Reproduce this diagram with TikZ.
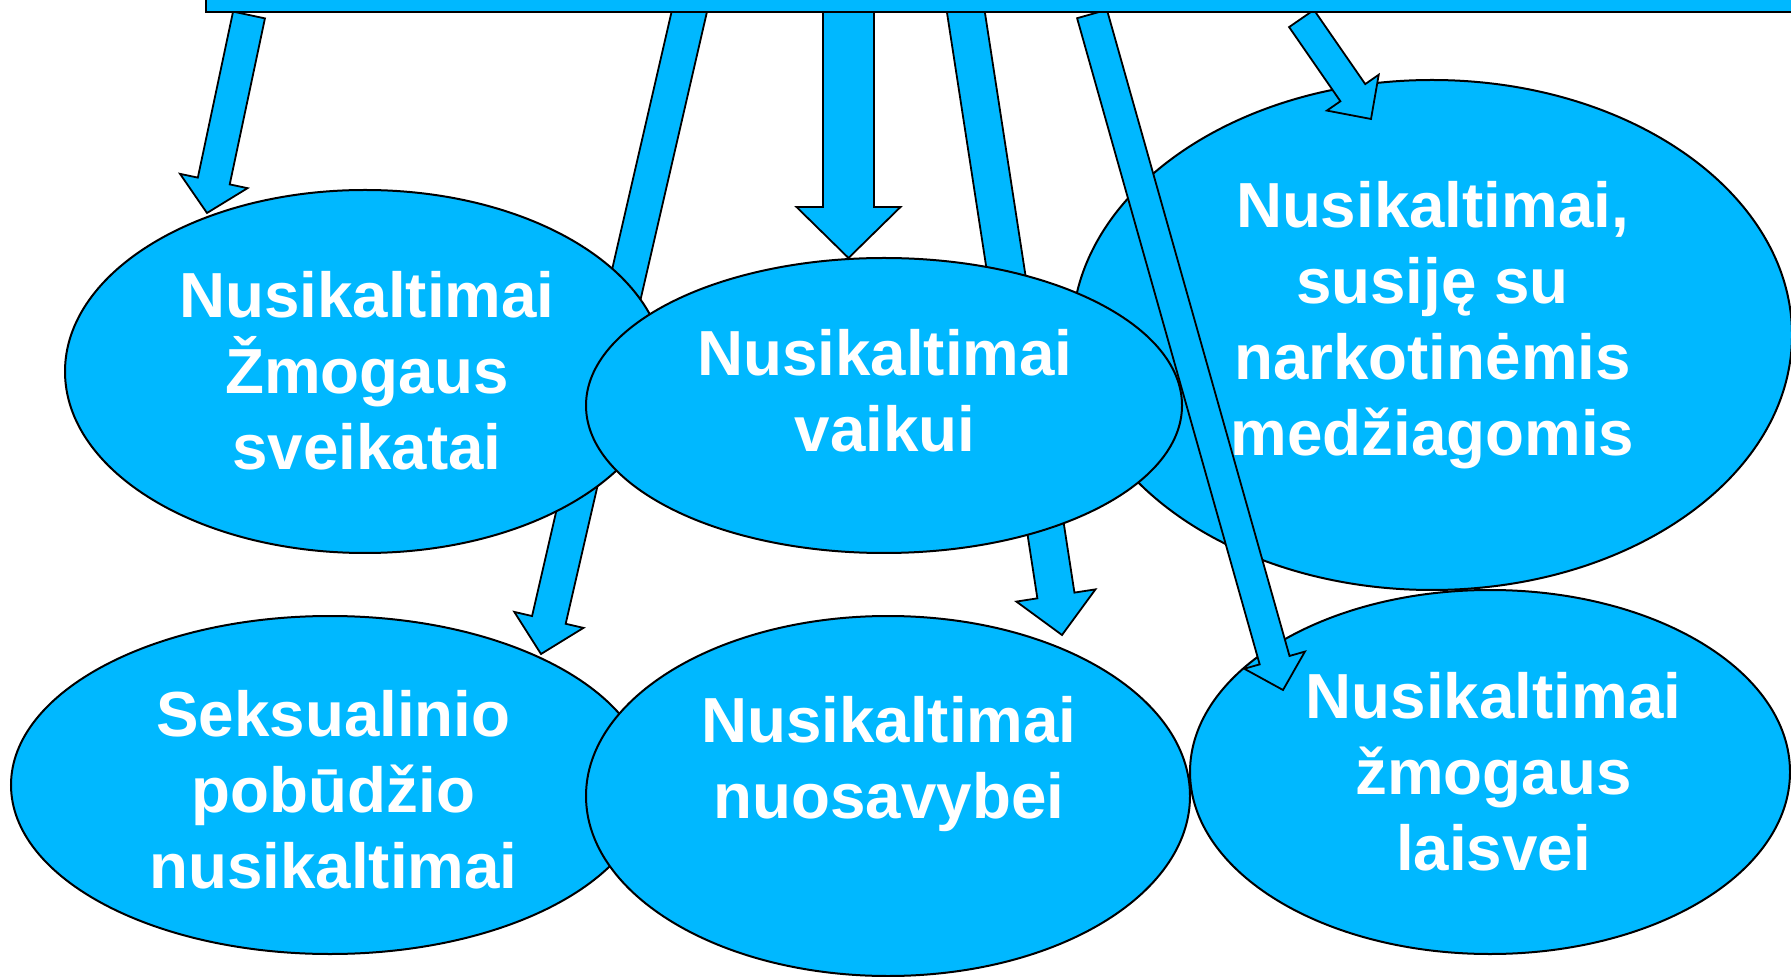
\documentclass[tikz,border=0pt]{standalone}
\usepackage{fontspec}
\setmainfont{Liberation Sans}
\usetikzlibrary{calc,shapes.geometric}
\definecolor{sky}{RGB}{0,184,255}
\tikzset{
  ell/.style={ellipse, draw=black, fill=sky, line width=1pt, inner sep=0pt, outer sep=0pt},
  arr/.style={draw=black, fill=sky, line width=0.9pt, line join=miter},
  lbl/.style={text=white, font=\fontsize{31.85pt}{38pt}\selectfont\bfseries, align=center, inner sep=0pt, anchor=north},
  topbar/.style={draw=black, fill=sky, line width=1pt}
}
% #1 start, #2 tip, #3 shaft width, #4 head width, #5 head length (all in px)
\newcommand\blockarrow[5]{%
  \path ($(#2)!#5*0.5pt!(#1)$) coordinate (hb);
  \draw[arr] ($(#1)!#3*0.25pt!90:(#2)$) -- ($(hb)!#3*0.25pt!90:(#2)$)
     -- ($(hb)!#4*0.25pt!90:(#2)$) -- (#2)
     -- ($(hb)!#4*0.25pt!-90:(#2)$) -- ($(hb)!#3*0.25pt!-90:(#2)$)
     -- ($(#1)!#3*0.25pt!-90:(#2)$) -- cycle;
}
\begin{document}
\begin{tikzpicture}[x=0.5pt,y=-0.5pt]
\useasboundingbox (0,0) rectangle (1791,977);
\fill[white] (0,0) rectangle (1791,977);
% arrow end points
\coordinate (aS) at (249,15);     \coordinate (aT) at (207,213);
\coordinate (bS) at (692,0);      \coordinate (bT) at (541,654);
\coordinate (cS) at (848.5,0);    \coordinate (cT) at (848.5,258);
\coordinate (dS) at (964,0);      \coordinate (dT) at (1062,635);
\coordinate (eS) at (1092,14);    \coordinate (eT) at (1283,690);
\coordinate (fS) at (1301.5,18.5);\coordinate (fT) at (1371,119);
% arrows lying under the ellipses
\blockarrow{bS}{bT}{34.5}{71}{35}
\blockarrow{dS}{dT}{37.5}{80}{40}
% ellipses
\node[ell, minimum width=300pt, minimum height=181.5pt] (e1) at (365,371.5) {};
\node[ell, minimum width=360pt, minimum height=255pt] (e3) at (1432,335) {};
\node[ell, minimum width=298pt, minimum height=147.5pt] (e2) at (884,405.5) {};
\node[ell, minimum width=319pt, minimum height=169pt] (e4) at (330,785) {};
\node[ell, minimum width=302pt, minimum height=180pt] (e5) at (888,796) {};
\node[ell, minimum width=300pt, minimum height=182pt] (e6) at (1490,772) {};
% arrows on top
\blockarrow{aS}{aT}{32.6}{69}{32.7}
\blockarrow{cS}{cT}{51}{104}{51}
\blockarrow{eS}{eT}{31}{63}{31}
\blockarrow{fS}{fT}{30.2}{63}{32}
% top bar
\draw[topbar] (206,-10) rectangle (1810,12);
% texts
\node[lbl] (t1) at (367,271) {Nusikaltimai\\Žmogaus\\sveikatai};
\node[lbl] (t2) at (885,329) {Nusikaltimai\\vaikui};
\node[lbl] (t3) at (1432.5,181) {Nusikaltimai,\\susiję su\\narkotinėmis\\medžiagomis};
\node[lbl] (t4) at (333.5,690) {Seksualinio\\pobūdžio\\nusikaltimai};
\node[lbl] (t5) at (889,696) {Nusikaltimai\\nuosavybei};
\node[lbl] (t6) at (1493.5,672) {Nusikaltimai\\žmogaus\\laisvei};
\end{tikzpicture}
\end{document}
